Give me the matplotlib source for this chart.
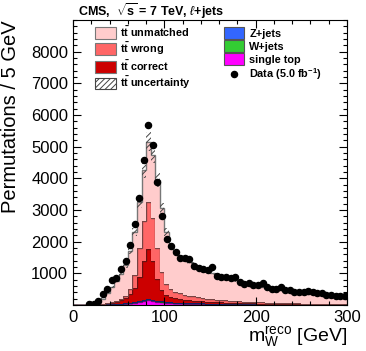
import matplotlib
matplotlib.use("Agg")

import matplotlib.pyplot as plt
from matplotlib.patches import Patch
from matplotlib.lines import Line2D
from matplotlib.ticker import MultipleLocator
import numpy as np

# 60 bins of 5 GeV from 0 to 300 GeV
bin_edges = np.arange(0, 305, 5)

data = [0, 0, 0, 20, 40, 120, 340, 520, 780, 840,
        1140, 1390, 1880, 2560, 3380, 4580, 5680, 5050, 3900, 2820,
        2100, 1870, 1660, 1470, 1470, 1460, 1230, 1160, 1130, 1110,
        1210, 920, 890, 870, 850, 890, 730, 660, 680, 640,
        630, 680, 570, 520, 500, 570, 470, 470, 420, 400,
        400, 450, 400, 380, 380, 320, 310, 290, 270, 270]

single_top = [0, 0, 0, 0, 1, 3, 6, 10, 15, 22,
              30, 40, 55, 75, 100, 125, 150, 140, 110, 85,
              70, 62, 56, 50, 46, 42, 39, 36, 33, 31,
              29, 27, 25, 23, 22, 20, 19, 18, 17, 16,
              15, 14, 13, 12, 12, 11, 10, 10, 9, 9,
              8, 8, 7, 7, 7, 6, 6, 6, 5, 5]

wjets = [0, 0, 0, 0, 1, 2, 4, 6, 8, 10,
         12, 14, 16, 19, 22, 26, 30, 28, 26, 24,
         23, 22, 21, 20, 19, 18, 17, 16, 15, 14,
         13, 12, 12, 11, 10, 10, 9, 9, 8, 8,
         7, 7, 6, 6, 6, 5, 5, 5, 4, 4,
         4, 4, 3, 3, 3, 3, 3, 2, 2, 2]

zjets = [0, 0, 0, 0, 0, 0, 1, 1, 1, 1,
         1, 2, 2, 2, 3, 3, 4, 4, 3, 3,
         3, 3, 2, 2, 2, 2, 2, 2, 2, 2,
         2, 2, 1, 1, 1, 1, 1, 1, 1, 1,
         1, 1, 1, 1, 1, 1, 1, 1, 1, 0,
         0, 0, 0, 0, 0, 0, 0, 0, 0, 0]

tt_correct = [0, 0, 0, 0, 2, 7, 17, 33, 51, 72,
              107, 174, 277, 454, 775, 1246, 1596, 1228, 681, 368,
              234, 173, 141, 118, 103, 93, 82, 74, 66, 59,
              53, 48, 44, 41, 37, 34, 31, 28, 26, 23,
              22, 20, 19, 18, 16, 16, 15, 13, 13, 13,
              12, 11, 12, 11, 10, 10, 9, 9, 9, 8]

tt_wrong = [0, 0, 0, 0, 1, 3, 7, 10, 15, 25,
            40, 70, 170, 400, 900, 1250, 1470, 1350, 980, 570,
            320, 240, 200, 180, 160, 145, 130, 117, 104, 94,
            88, 81, 73, 69, 65, 60, 55, 49, 46, 44,
            41, 38, 36, 33, 31, 29, 27, 26, 25, 23,
            22, 20, 18, 17, 16, 15, 14, 13, 12, 12]

tt_unmatched = [0, 0, 0, 10, 25, 75, 165, 320, 470, 630,
                790, 950, 1180, 1350, 1450, 1600, 1900, 2000, 2150, 2000,
                1650, 1400, 1280, 1150, 1090, 1070, 1010, 955, 900, 860,
                825, 780, 745, 715, 685, 655, 625, 595, 562, 538,
                514, 490, 465, 440, 424, 408, 392, 375, 358, 341,
                324, 312, 300, 287, 274, 261, 248, 240, 232, 223]

tt_rel_unc = 0.06

plt.rcParams['font.family'] = ['Liberation Sans', 'DejaVu Sans']
plt.rcParams['mathtext.fontset'] = 'custom'
plt.rcParams['mathtext.rm'] = 'Liberation Sans'
plt.rcParams['mathtext.it'] = 'Liberation Sans:italic'
plt.rcParams['mathtext.bf'] = 'Liberation Sans:bold'
plt.rcParams['hatch.linewidth'] = 0.7
plt.rcParams['hatch.color'] = '#444444'

fig = plt.figure(figsize=(3.66, 3.51), dpi=100)
ax = fig.add_axes([0.1995, 0.131, 0.7486, 0.812])

# stacked components, bottom to top
stack = [
    (single_top, '#FF00FF', '#880088'),
    (wjets, '#33CC33', '#116611'),
    (zjets, '#3366FF', '#112266'),
    (tt_correct, '#CC0000', '#661111'),
    (tt_wrong, '#FF6666', '#774444'),
    (tt_unmatched, '#FFCCCC', '#777777'),
]
bottom = np.zeros(len(data))
for vals, fc, ec in stack:
    top = bottom + np.array(vals, dtype=float)
    ax.stairs(top, bin_edges, baseline=bottom, fill=True, color=fc, lw=0)
    ax.stairs(top, bin_edges, baseline=None, color=ec, lw=1.0)
    bottom = top

tt_sum = np.array(tt_correct) + np.array(tt_wrong) + np.array(tt_unmatched)
unc = tt_rel_unc * tt_sum
ax.stairs(bottom + unc, bin_edges, baseline=bottom - unc, fill=True,
          facecolor='none', edgecolor='#444444', hatch='//////', lw=0)

# data points (skip empty bins)
centers = 0.5 * (bin_edges[:-1] + bin_edges[1:])
d = np.array(data, dtype=float)
m = d > 0
ax.errorbar(centers[m], d[m], yerr=np.sqrt(d[m]), fmt='o', color='black',
            ms=4.4, elinewidth=1.0, capsize=0)

ax.set_xlim(0, 300)
ax.set_ylim(0, 9000)
ax.xaxis.set_major_locator(MultipleLocator(100))
ax.xaxis.set_minor_locator(MultipleLocator(20))
ax.yaxis.set_major_locator(MultipleLocator(1000))
ax.yaxis.set_minor_locator(MultipleLocator(200))
ax.tick_params(which='both', direction='in', top=True, right=True,
               labelsize=12, width=0.8)
ax.tick_params(which='major', length=6)
ax.tick_params(which='minor', length=3)
ax.set_yticks([1000, 2000, 3000, 4000, 5000, 6000, 7000, 8000])
ax.set_yticklabels(['1000', '2000', '3000', '4000', '5000', '6000', '7000', '8000'])
for sp in ax.spines.values():
    sp.set_linewidth(0.8)

ax.set_xlabel(r'$\mathrm{m}_{\mathrm{W}}^{\mathrm{reco}}$ [GeV]', fontsize=14, loc='right', labelpad=0)
ax.set_ylabel('Permutations / 5 GeV', fontsize=14.5, loc='top', labelpad=8)

fig.text(0.213, 0.968, r'CMS,  $\mathbf{\sqrt{s}}$ = 7 TeV, $\ell$+jets', fontsize=9,
         fontweight='bold', ha='left', va='center')

ttbar = r'$\mathbf{t\bar{t}}$'
handles = [
    Patch(facecolor='#FFCCCC', edgecolor='#777777', lw=0.8),
    Patch(facecolor='#FF6666', edgecolor='#777777', lw=0.8),
    Patch(facecolor='#CC0000', edgecolor='#777777', lw=0.8),
    Patch(facecolor='white', edgecolor='#444444', hatch='//////', lw=0.8),
    Patch(facecolor='#3366FF', edgecolor='#555555', lw=0.8),
    Patch(facecolor='#33CC33', edgecolor='#555555', lw=0.8),
    Patch(facecolor='#FF00FF', edgecolor='#555555', lw=0.8),
    Line2D([], [], marker='o', color='black', ls='none', ms=4.4),
]
labels = [ttbar + ' unmatched', ttbar + ' wrong', ttbar + ' correct', ttbar + ' uncertainty',
          'Z+jets', 'W+jets', 'single top', r'Data (5.0 fb$^{\mathbf{-1}}$)']
leg = ax.legend(handles, labels, ncol=2, loc='upper left', bbox_to_anchor=(0.08, 0.985),
                frameon=False, borderpad=0, borderaxespad=0, handlelength=1.9,
                handleheight=1.25, handletextpad=0.45, labelspacing=0.15,
                columnspacing=3.0, prop={'weight': 'bold', 'size': 7.8})

fig.savefig("out.png", dpi=100)
